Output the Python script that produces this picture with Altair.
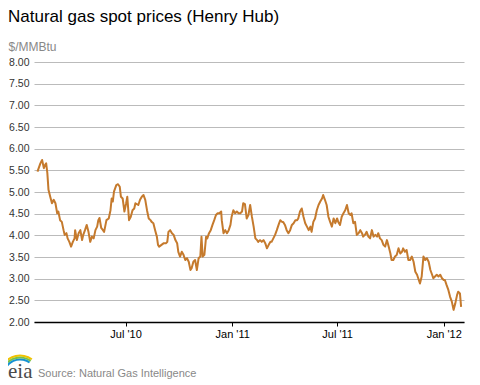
import altair as alt
import pandas as pd

# ---- data (Henry Hub spot, $/MMBtu) ----
dates_2010 = [
    "2010-01-30", "2010-02-04", "2010-02-07", "2010-02-10", "2010-02-12", "2010-02-14",
    "2010-02-16", "2010-02-18", "2010-02-21", "2010-02-24", "2010-02-27", "2010-03-02",
    "2010-03-05", "2010-03-07", "2010-03-10", "2010-03-13", "2010-03-16", "2010-03-18",
    "2010-03-21", "2010-03-23", "2010-03-26", "2010-03-29", "2010-04-01", "2010-04-04",
    "2010-04-05", "2010-04-08", "2010-04-11", "2010-04-14", "2010-04-17", "2010-04-19",
    "2010-04-22", "2010-04-25", "2010-04-28", "2010-05-01", "2010-05-04", "2010-05-07",
    "2010-05-10", "2010-05-13", "2010-05-15", "2010-05-17", "2010-05-20", "2010-05-23",
    "2010-05-25", "2010-05-29", "2010-06-02", "2010-06-05", "2010-06-07", "2010-06-09",
    "2010-06-11", "2010-06-15", "2010-06-18", "2010-06-21", "2010-06-23", "2010-06-26",
    "2010-06-29", "2010-07-02", "2010-07-04", "2010-07-07", "2010-07-10", "2010-07-13",
    "2010-07-16",
    "2010-07-18", "2010-07-23", "2010-07-26", "2010-07-29", "2010-08-01", "2010-08-04",
    "2010-08-07", "2010-08-10", "2010-08-13", "2010-08-15", "2010-08-18", "2010-08-21",
    "2010-08-24", "2010-08-26", "2010-08-28", "2010-09-01", "2010-09-05", "2010-09-09",
    "2010-09-11", "2010-09-13", "2010-09-16", "2010-09-19", "2010-09-22", "2010-09-25",
    "2010-09-28", "2010-09-30", "2010-10-03", "2010-10-06", "2010-10-09", "2010-10-12",
    "2010-10-15", "2010-10-18", "2010-10-21", "2010-10-23", "2010-10-26", "2010-10-29",
    "2010-11-01", "2010-11-04", "2010-11-07", "2010-11-09", "2010-11-11", "2010-11-14",
    "2010-11-17", "2010-11-19", "2010-11-22", "2010-11-25", "2010-11-28", "2010-12-01",
    "2010-12-04", "2010-12-07", "2010-12-10", "2010-12-13", "2010-12-14", "2010-12-17",
    "2010-12-20", "2010-12-23", "2010-12-26", "2010-12-29", "2010-12-31",
]
prices_2010 = [
    5.47, 5.66, 5.74, 5.55, 5.62, 5.66, 5.44, 5.05, 4.89, 4.74,
    4.82, 4.74, 4.51, 4.55, 4.35, 4.31, 4.12, 4.01, 4.05, 3.93,
    3.85, 3.74, 3.85, 3.93, 4.12, 3.89, 4.05, 4.12, 3.89, 4.01,
    4.12, 4.24, 4.08, 3.85, 3.97, 3.93, 4.12, 4.20, 4.35, 4.40,
    4.17, 4.12, 4.08, 4.35, 4.39, 4.58, 4.85, 4.78, 5.01, 5.16,
    5.18, 5.12, 4.89, 4.85, 4.55, 4.74, 4.89, 4.35, 4.43, 4.58,
    4.62,
    4.74, 4.70, 4.82, 4.89, 4.93, 4.82, 4.58, 4.39, 4.35, 4.31,
    4.28, 4.12, 3.97, 3.78, 3.74, 3.78, 3.82, 3.82, 3.85, 4.08,
    4.12, 4.05, 4.01, 3.89, 3.82, 3.62, 3.51, 3.62, 3.55, 3.43,
    3.47, 3.39, 3.20, 3.24, 3.39, 3.43, 3.20, 3.47, 3.51, 3.97,
    3.51, 3.55, 3.97, 3.93, 4.05, 4.12, 4.24, 4.35, 4.47, 4.51,
    4.51, 4.55, 4.35, 4.05, 4.12, 4.05, 4.12, 4.24, 4.43,
]

dates_2011 = [
    "2011-01-03", "2011-01-06", "2011-01-09", "2011-01-12", "2011-01-15", "2011-01-18",
    "2011-01-20", "2011-01-23", "2011-01-26", "2011-01-29", "2011-02-01", "2011-02-04",
    "2011-02-07", "2011-02-10", "2011-02-13", "2011-02-15", "2011-02-18", "2011-02-21",
    "2011-02-24", "2011-02-27", "2011-03-02", "2011-03-05", "2011-03-08", "2011-03-10",
    "2011-03-13", "2011-03-16", "2011-03-19", "2011-03-22", "2011-03-25", "2011-03-28",
    "2011-03-30", "2011-04-02", "2011-04-05", "2011-04-08", "2011-04-11", "2011-04-14",
    "2011-04-17", "2011-04-20", "2011-04-23", "2011-04-25", "2011-04-28", "2011-05-01",
    "2011-05-04", "2011-05-07", "2011-05-10", "2011-05-13", "2011-05-16", "2011-05-18",
    "2011-05-21", "2011-05-24", "2011-05-27", "2011-05-30", "2011-06-02", "2011-06-05",
    "2011-06-07", "2011-06-10", "2011-06-13", "2011-06-16", "2011-06-19", "2011-06-22",
    "2011-06-25", "2011-06-28", "2011-07-01", "2011-07-03", "2011-07-06", "2011-07-09",
    "2011-07-12",
    "2011-07-15", "2011-07-18", "2011-07-21", "2011-07-24", "2011-07-26", "2011-07-29",
    "2011-08-01", "2011-08-04", "2011-08-07", "2011-08-10", "2011-08-13", "2011-08-15",
    "2011-08-18", "2011-08-21", "2011-08-24", "2011-08-27", "2011-08-30", "2011-09-02",
    "2011-09-05", "2011-09-08", "2011-09-10", "2011-09-13", "2011-09-16", "2011-09-19",
    "2011-09-22", "2011-09-25", "2011-09-28", "2011-10-01", "2011-10-03", "2011-10-06",
    "2011-10-09", "2011-10-12", "2011-10-15", "2011-10-18", "2011-10-21", "2011-10-23",
    "2011-10-26", "2011-10-29", "2011-11-01", "2011-11-04", "2011-11-07", "2011-11-10",
    "2011-11-13", "2011-11-16", "2011-11-18", "2011-11-21", "2011-11-24", "2011-11-27",
    "2011-11-30", "2011-12-03", "2011-12-06", "2011-12-09", "2011-12-12", "2011-12-14",
    "2011-12-17", "2011-12-20", "2011-12-23", "2011-12-26", "2011-12-29",
]
prices_2011 = [
    4.58, 4.51, 4.55, 4.51, 4.51, 4.55, 4.74, 4.72, 4.39, 4.47,
    4.70, 4.43, 4.20, 3.93, 3.89, 3.85, 3.89, 3.85, 3.89, 3.82,
    3.70, 3.78, 3.85, 3.85, 3.93, 4.01, 4.12, 4.24, 4.35, 4.31,
    4.31, 4.24, 4.12, 4.05, 4.12, 4.24, 4.28, 4.35, 4.35, 4.39,
    4.55, 4.62, 4.43, 4.28, 4.20, 4.12, 4.20, 4.08, 4.31, 4.39,
    4.58, 4.70, 4.78, 4.85, 4.93, 4.82, 4.70, 4.43, 4.31, 4.20,
    4.39, 4.28, 4.39, 4.31, 4.24, 4.43, 4.51,
    4.58, 4.70, 4.51, 4.47, 4.51, 4.28, 4.31, 4.01, 4.05, 4.12,
    4.05, 3.97, 4.01, 4.08, 3.97, 3.93, 4.12, 3.97, 4.01, 3.97,
    4.05, 3.93, 3.89, 3.78, 3.74, 3.89, 3.74, 3.58, 3.43, 3.43,
    3.51, 3.55, 3.70, 3.58, 3.62, 3.70, 3.62, 3.66, 3.43, 3.43,
    3.51, 3.39, 3.16, 3.09, 3.01, 2.89, 3.05, 3.51, 3.43, 3.47,
    3.39, 3.20, 3.09, 3.01, 3.05, 3.09, 3.05, 3.09, 3.01,
]

dates_2012 = [
    "2012-01-01", "2012-01-03", "2012-01-06", "2012-01-09", "2012-01-12", "2012-01-15",
    "2012-01-18", "2012-01-21", "2012-01-24", "2012-01-26", "2012-01-29", "2012-01-31",
]
prices_2012 = [2.97, 2.97, 2.85, 2.74, 2.58, 2.47, 2.28, 2.43, 2.62, 2.70, 2.66, 2.35]

x_domain = ["2010-01-24", "2012-02-05"]
x_ticks = [(2010, 7), (2011, 1), (2011, 7), (2012, 1)]
y_ticks = [2.0, 2.5, 3.0, 3.5, 4.0, 4.5, 5.0, 5.5, 6.0, 6.5, 7.0, 7.5, 8.0]

title_text = "Natural gas spot prices (Henry Hub)"
unit_text = "$/MMBtu"
source_text = "Source: Natural Gas Intelligence"

df = pd.DataFrame({
    "date": dates_2010 + dates_2011 + dates_2012,
    "price": prices_2010 + prices_2011 + prices_2012,
})

FONT = "Liberation Sans"
LINE_COLOR = "#c57a2d"


def dt(s):
    y, m, d = (int(p) for p in s.split("-"))
    return alt.DateTime(year=y, month=m, date=d, utc=True)


month_label = "utcFormat(datum.value, '%b') + \" '\" + utcFormat(datum.value, '%y')"

line = alt.Chart(df).mark_line(
    color=LINE_COLOR, strokeWidth=2, strokeJoin="round"
).encode(
    x=alt.X(
        "date:T",
        scale=alt.Scale(type="utc", domain=[dt(x_domain[0]), dt(x_domain[1])]),
        axis=alt.Axis(
            values=[alt.DateTime(year=y, month=m, date=1, utc=True) for y, m in x_ticks],
            labelExpr=month_label, title=None, grid=False,
            domainColor="black", domainWidth=1.5, tickColor="black", tickSize=4,
            labelFont=FONT, labelFontSize=11, labelColor="black", labelPadding=2,
        ),
    ),
    y=alt.Y(
        "price:Q",
        scale=alt.Scale(domain=[2, 8], nice=False, zero=False),
        axis=alt.Axis(
            values=y_ticks, format=".2f", title=unit_text,
            titleAngle=0, titleAlign="left", titleBaseline="alphabetic",
            titleX=-26, titleY=-12, titleFont=FONT, titleFontSize=12,
            titleFontWeight="normal", titleColor="#888888",
            domain=False, ticks=False, labelPadding=5,
            labelFont=FONT, labelFontSize=10.5, labelColor="#333333",
            gridColor="#bbbbbb", gridWidth=1,
        ),
    ),
)

one = alt.Data(values=[{}])

title = alt.Chart(one).mark_text(
    text=title_text, align="left", baseline="alphabetic",
    font=FONT, fontSize=17, color="black",
).encode(x=alt.value(-26), y=alt.value(-40))

source = alt.Chart(one).mark_text(
    text=source_text, align="left", baseline="alphabetic",
    font=FONT, fontSize=11, color="#888888",
).encode(x=alt.value(4), y=alt.value(315))

logo_text = alt.Chart(one).mark_text(
    text="eia", align="left", baseline="alphabetic",
    font="Liberation Serif", fontSize=21, color="#4a4a4a",
).encode(x=alt.value(-26), y=alt.value(316))

arcs = []
for r1, r2, col in [(19.5, 21.5, "#f2c200"), (17.5, 19.5, "#7dc142"), (15.5, 17.5, "#1592d2")]:
    arcs.append(
        alt.Chart(one).mark_arc(
            radius=r2, radius2=r1, theta=5.25, theta2=6.9, color=col
        ).encode(x=alt.value(-14), y=alt.value(314))
    )

chart = alt.layer(line, title, source, logo_text, *arcs).properties(
    width=430, height=260,
    autosize=alt.AutoSizeParams(type="none"),
    padding={"left": 26, "top": 54, "right": 6, "bottom": 60},
).configure_view(stroke=None)

chart.save("out.html", embed_options={"renderer": "svg", "actions": False})
